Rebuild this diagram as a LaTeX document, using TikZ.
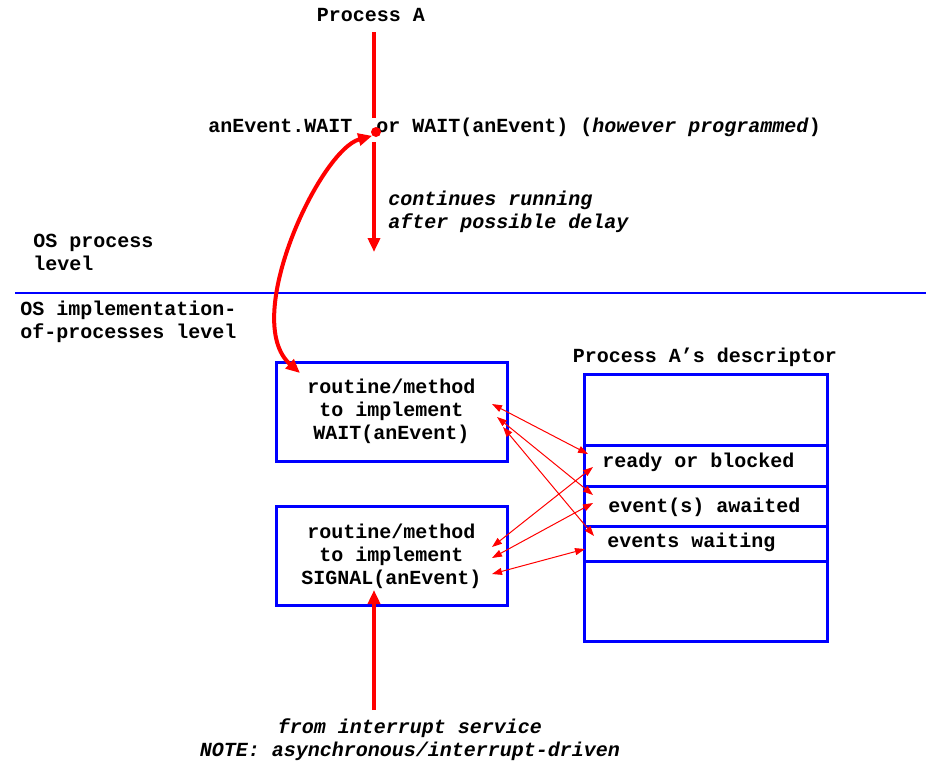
\documentclass[tikz,border=0pt]{standalone}
\usepackage{fontspec}
\setmainfont{Liberation Mono}
\usetikzlibrary{arrows.meta}

\begin{document}
\begin{tikzpicture}[x=0.5pt, y=-0.5pt, >={Triangle[length=7pt, width=6pt]},
  font=\bfseries\fontsize{10}{11.5}\selectfont,
  txt/.style={inner sep=1pt, align=left},
  routine/.style={draw=blue, line width=1.5pt, minimum width=115.5pt, minimum height=49.5pt, align=center},
  field/.style={draw=blue, line width=1.5pt, anchor=north west, minimum width=121.5pt, inner sep=0pt},
  flow/.style={red, line width=2pt},
  link/.style={red, line width=0.5pt, {Triangle[length=5pt, width=3.5pt]}-{Triangle[length=5pt, width=3.5pt]}}]

\useasboundingbox (0,0) rectangle (926,761);

% process level
\node (procA) at (371,15) [txt] {Process A};
\node (waitcall) at (206,127) [txt, anchor=west] {anEvent.WAIT\ \ or WAIT(anEvent) (\textit{however programmed})};
\node (cont) at (386,212) [txt, anchor=west] {\itshape continues running\\\itshape after possible delay};
\node (oslevel) at (31,252) [txt, anchor=west] {OS process\\level};
\node (implevel) at (18,322) [txt, anchor=west] {OS implementation-\\of-processes level};

\coordinate (topA) at (374,32);
\coordinate (gapA) at (374,118);
\coordinate (resumeA) at (374,142);
\coordinate (endA) at (374,252);
\node (dot) at (376,132) [circle, fill=red, inner sep=0pt, minimum size=5pt] {};

\draw[flow] (topA) -- (gapA);
\draw[flow, ->] (resumeA) -- (endA);

% boundary
\coordinate (lvlL) at (15,293);
\coordinate (lvlR) at (926,293);
\draw[blue, line width=1pt] (lvlL) -- (lvlR);

% routines
\node (waitbox) at (391.5,411.5) [routine] {routine/method\\to implement\\WAIT(anEvent)};
\node (signalbox) at (391.5,556) [routine] {routine/method\\to implement\\SIGNAL(anEvent)};

% descriptor
\node (desctitle) at (705,357) [txt] {Process A’s descriptor};
\node (desctop) at (583,373) [field, minimum height=35.5pt] {};
\node (ready) at (583,444) [field, minimum height=20.5pt] {};
\node (awaited) at (583,485) [field, minimum height=20pt] {};
\node (waiting) at (583,525) [field, minimum height=17.5pt] {};
\node (descbot) at (583,560) [field, minimum height=40pt] {};
\node (readytxt) at (600,462) [txt, anchor=west] {ready or blocked};
\node (awaitedtxt) at (606,507) [txt, anchor=west] {event(s) awaited};
\node (waitingtxt) at (605,542) [txt, anchor=west] {events waiting};

% interrupt
\node (irq) at (410,740) [txt, align=center] {\itshape from interrupt service\\\itshape NOTE: asynchronous/interrupt-driven};
\coordinate (irqA) at (374,710);
\coordinate (irqB) at (374,590);
\draw[flow, ->] (irqA) -- (irqB);

% call into the OS
\coordinate (callin) at (300,373);
\draw[flow, <->] (dot.south west) .. controls (320,150) and (240,320) .. (callin);

% accesses to descriptor fields
\coordinate (w1) at (492,404);
\coordinate (w2) at (497,417);
\coordinate (w3) at (503,427);
\coordinate (s1) at (492,547);
\coordinate (s2) at (492,558);
\coordinate (s3) at (492,574);
\coordinate (rb1) at (588,454);
\coordinate (rb2) at (593,467);
\coordinate (ea1) at (593,495);
\coordinate (ea2) at (593,503);
\coordinate (ew1) at (594,536);
\coordinate (ew2) at (585,549);

\draw[link] (w1) -- (rb1);
\draw[link] (w2) -- (ea1);
\draw[link] (w3) -- (ew1);
\draw[link] (s1) -- (rb2);
\draw[link] (s2) -- (ea2);
\draw[link] (s3) -- (ew2);

\end{tikzpicture}
\end{document}
